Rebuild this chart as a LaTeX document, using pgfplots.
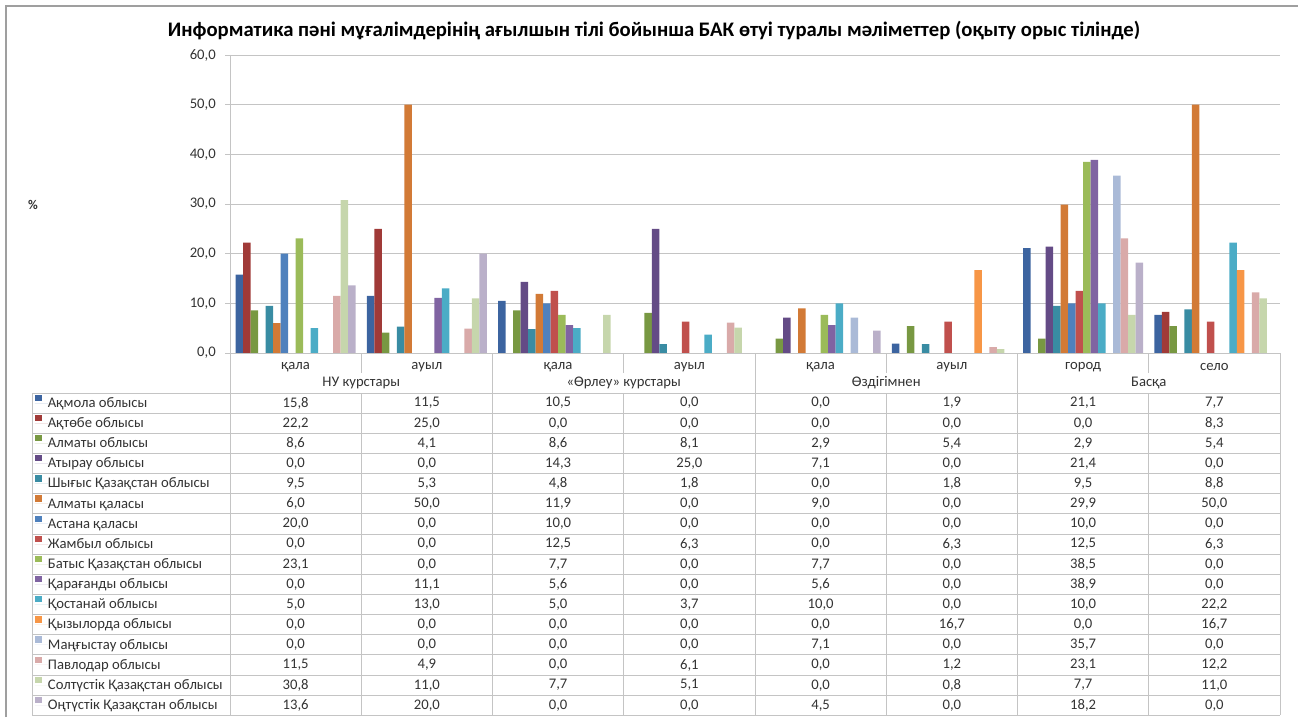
\documentclass[border=0pt]{standalone}
\usepackage{fontspec}
\setmainfont{Carlito}
\usepackage{pgfplots}
\usepackage{pgfplotstable}
\pgfplotsset{compat=1.18}

\definecolor{c1}{HTML}{3C64A0}
\definecolor{c2}{HTML}{A03A38}
\definecolor{c3}{HTML}{789842}
\definecolor{c4}{HTML}{644B86}
\definecolor{c5}{HTML}{398CA3}
\definecolor{c6}{HTML}{D27A36}
\definecolor{c7}{HTML}{4F81BD}
\definecolor{c8}{HTML}{C0504D}
\definecolor{c9}{HTML}{9BBB59}
\definecolor{c10}{HTML}{8064A2}
\definecolor{c11}{HTML}{4BACC6}
\definecolor{c12}{HTML}{F79646}
\definecolor{c13}{HTML}{AABAD7}
\definecolor{c14}{HTML}{D9AAA9}
\definecolor{c15}{HTML}{C6D6AC}
\definecolor{c16}{HTML}{BAB0C9}
\definecolor{txt}{HTML}{333333}
\definecolor{lin}{HTML}{C4C4C4}

% rows = categories, columns = regions
\pgfplotstableread{
x s1 s2 s3 s4 s5 s6 s7 s8 s9 s10 s11 s12 s13 s14 s15 s16
0 15.8 22.2 8.6 0.0 9.5 6.0 20.0 0.0 23.1 0.0 5.0 0.0 0.0 11.5 30.8 13.6
1 11.5 25.0 4.1 0.0 5.3 50.0 0.0 0.0 0.0 11.1 13.0 0.0 0.0 4.9 11.0 20.0
2 10.5 0.0 8.6 14.3 4.8 11.9 10.0 12.5 7.7 5.6 5.0 0.0 0.0 0.0 7.7 0.0
3 0.0 0.0 8.1 25.0 1.8 0.0 0.0 6.3 0.0 0.0 3.7 0.0 0.0 6.1 5.1 0.0
4 0.0 0.0 2.9 7.1 0.0 9.0 0.0 0.0 7.7 5.6 10.0 0.0 7.1 0.0 0.0 4.5
5 1.9 0.0 5.4 0.0 1.8 0.0 0.0 6.3 0.0 0.0 0.0 16.7 0.0 1.2 0.8 0.0
6 21.1 0.0 2.9 21.4 9.5 29.9 10.0 12.5 38.5 38.9 10.0 0.0 35.7 23.1 7.7 18.2
7 7.7 8.3 5.4 0.0 8.8 50.0 0.0 6.3 0.0 0.0 22.2 16.7 0.0 12.2 11.0 0.0
}\datatable

\begin{document}
\begin{tikzpicture}[font=\fontsize{11}{13}\selectfont, text=txt]

\begin{axis}[
  at={(172.5pt,-264.75pt)}, anchor=south west,
  scale only axis, width=787.5pt, height=223.5pt,
  ybar=0pt, bar width=0.0571428,
  xmin=-0.5, xmax=7.5, ymin=0, ymax=60,
  xtick={0,...,7},
  xticklabels={қала,ауыл,қала,ауыл,қала,ауыл,город,село},
  xticklabel style={anchor=center, inner sep=0pt, yshift=-6.5pt, text=txt},
  xtick style={draw=none},
  ytick={0,10,...,60},
  ytick pos=left, tick align=outside, major tick length=3.75pt,
  ytick style={draw=lin, line width=0.75pt},
  yticklabel style={inner sep=0pt, xshift=-6.75pt, text=txt},
  /pgf/number format/.cd, fixed, fixed zerofill, precision=1, use comma, assume math mode=true,
  /pgfplots/.cd,
  ymajorgrids, grid style={draw=lin, line width=0.75pt},
  axis line style={draw=none},
  clip=false,
  legend style={at={(axis description cs:-0.18571,-0.13423)}, anchor=north west,
    draw=none, fill=none, inner sep=0pt, outer sep=0pt, row sep=0pt, column sep=0pt,
    nodes={inner sep=0pt, outer sep=0pt, text height=10.75pt, text depth=4.36pt, text=txt}},
  legend cell align=left,
  legend image code/.code={\fill[#1] (0.3pt,1.6pt) rectangle (5pt,6.3pt); \path (0pt,0pt) -- (9.75pt,0pt);},
]
\addplot[fill=c1,draw=none] table[x=x,y=s1]{\datatable}; \addlegendentry{Ақмола облысы}
\addplot[fill=c2,draw=none] table[x=x,y=s2]{\datatable}; \addlegendentry{Ақтөбе облысы}
\addplot[fill=c3,draw=none] table[x=x,y=s3]{\datatable}; \addlegendentry{Алматы облысы}
\addplot[fill=c4,draw=none] table[x=x,y=s4]{\datatable}; \addlegendentry{Атырау облысы}
\addplot[fill=c5,draw=none] table[x=x,y=s5]{\datatable}; \addlegendentry{Шығыс Қазақстан облысы}
\addplot[fill=c6,draw=none] table[x=x,y=s6]{\datatable}; \addlegendentry{Алматы қаласы}
\addplot[fill=c7,draw=none] table[x=x,y=s7]{\datatable}; \addlegendentry{Астана қаласы}
\addplot[fill=c8,draw=none] table[x=x,y=s8]{\datatable}; \addlegendentry{Жамбыл облысы}
\addplot[fill=c9,draw=none] table[x=x,y=s9]{\datatable}; \addlegendentry{Батыс Қазақстан облысы}
\addplot[fill=c10,draw=none] table[x=x,y=s10]{\datatable}; \addlegendentry{Қарағанды облысы}
\addplot[fill=c11,draw=none] table[x=x,y=s11]{\datatable}; \addlegendentry{Қостанай облысы}
\addplot[fill=c12,draw=none] table[x=x,y=s12]{\datatable}; \addlegendentry{Қызылорда облысы}
\addplot[fill=c13,draw=none] table[x=x,y=s13]{\datatable}; \addlegendentry{Маңғыстау облысы}
\addplot[fill=c14,draw=none] table[x=x,y=s14]{\datatable}; \addlegendentry{Павлодар облысы}
\addplot[fill=c15,draw=none] table[x=x,y=s15]{\datatable}; \addlegendentry{Солтүстік Қазақстан облысы}
\addplot[fill=c16,draw=none] table[x=x,y=s16]{\datatable}; \addlegendentry{Оңтүстік Қазақстан облысы}
\end{axis}

\begin{scope}[x=0.75pt,y=-0.75pt]
  % chart frame
  \draw[gray!75, line width=1.5pt] (6,717) -- (6,6) -- (1298,6);
  % title
  \node[font=\fontsize{15.5}{18}\selectfont\bfseries, text=black] at (654,30) {Информатика пәні мұғалімдерінің ағылшын тілі бойынша БАК өтуі туралы мәліметтер (оқыту орыс тілінде)};
  % y label
  \node[font=\fontsize{10}{12}\selectfont\bfseries] at (33,205) {\%};
  % axis lines
  \draw[lin, line width=0.75pt] (230,55) -- (230,715.4);
  \draw[lin, line width=0.75pt] (230,353) -- (1280,353);
  % table grid
  \foreach \r in {0,...,16} {
    \draw[lin, line width=0.75pt] (32,393+20.15*\r) -- (1280,393+20.15*\r);
  }
  \draw[lin, line width=0.75pt] (32,393) -- (32,715.4);
  \foreach \k in {2,4,6,8} {
    \draw[lin, line width=0.75pt] (230+131.25*\k,353) -- (230+131.25*\k,715.4);
  }
  \foreach \k in {1,3,5,7} {
    \draw[lin, line width=0.75pt] (230+131.25*\k,353) -- (230+131.25*\k,373);
    \draw[lin, line width=0.75pt] (230+131.25*\k,393) -- (230+131.25*\k,715.4);
  }
  % group labels
  \foreach \g/\lab in {0/НУ курстары,1/«Өрлеу» курстары,2/Өздігімнен,3/Басқа} {
    \node at (230+262.5*\g+131.25,383) {\lab};
  }
  % table values from the data
  \foreach \i in {1,...,16} {
    \foreach \c in {0,...,7} {
      \pgfplotstablegetelem{\c}{s\i}\of\datatable
      \node at (230+131.25*\c+65.625,393+20.15*\i-10.075)
        {\pgfmathprintnumber[fixed,fixed zerofill,precision=1,use comma,assume math mode=true]{\pgfplotsretval}};
    }
  }
  \pgfresetboundingbox
  \useasboundingbox (0,0) rectangle (1298,717);
\end{scope}
\end{tikzpicture}
\end{document}
